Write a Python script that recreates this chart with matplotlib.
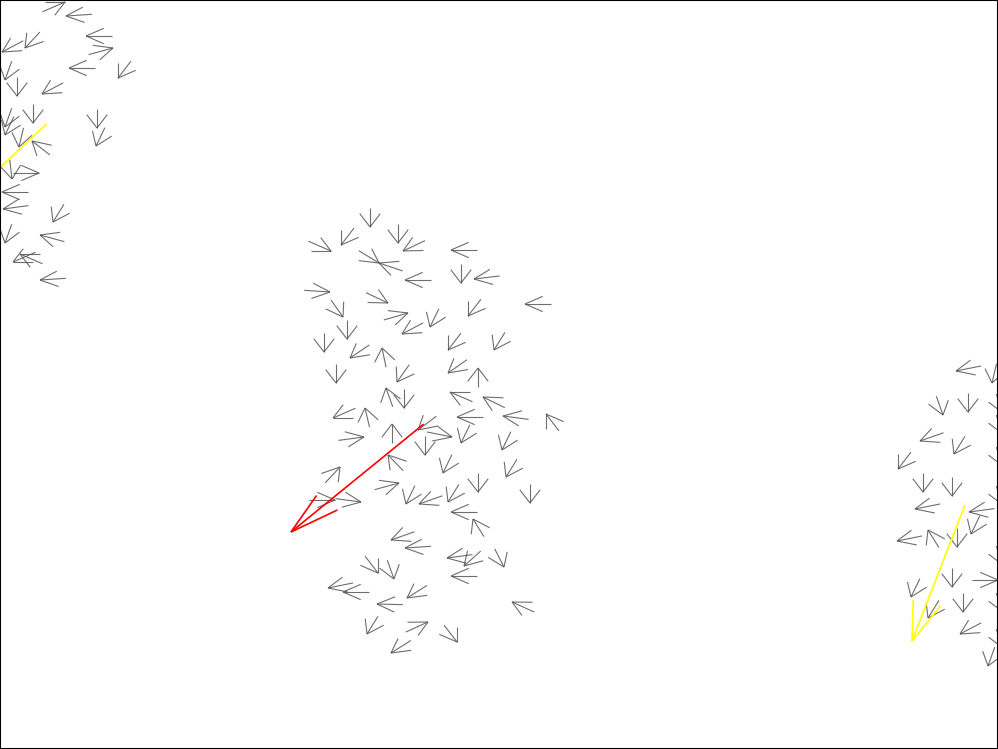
import numpy as np
import matplotlib
matplotlib.use('Agg')
import matplotlib.pyplot as plt
from matplotlib.collections import LineCollection

W, H = 998, 749
# world is a 100 x 100 box squeezed into the 998 x 749 frame
SX, SY = W / 100.0, -H / 100.0

# boid tips (frame units, y down) and headings (world degrees, ccw from +x)
boid_x = [370, 331, 341, 398, 403, 451, 379, 379, 405, 461, 474, 330, 388, 343,
          525, 468, 408, 347, 402, 430, 324, 350, 382, 397, 336, 448, 494, 448,
          478, 386, 404, 333, 365, 450, 483, 457, 503, 546, 392, 418, 452, 461,
          364, 425, 388, 340, 443, 478, 506, 530, 399, 361, 335, 406, 419, 448,
          451, 473, 391, 405, 447, 464, 504, 378, 394, 451, 328, 343, 407, 377,
          512, 367, 428, 457, 391, 502,
          65, 66, 2, 25, 86, 113, 69, 118, 5, 17, 42, 5, 5, 33, 97, 19, 32, 96,
          12, 39, 2, 3, 5, 53, 40, 13, 20, 40,
          956, 992, 943, 968, 920, 954, 898, 923, 952, 915, 969, 971, 897, 928,
          957, 952, 963, 911, 928, 960, 988, 998,
          1003, 1003, 1003, 1003, 1003, 1003, 1003]
boid_y = [227, 251, 245, 243, 251, 250, 263, 263, 280, 283, 279, 292, 303, 317,
          304, 316, 313, 339, 334, 327, 352, 358, 348, 382, 383, 350, 350, 373,
          368, 388, 408, 418, 408, 392, 397, 417, 416, 414, 424, 430, 437, 443,
          437, 455, 455, 467, 473, 492, 477, 503, 483, 502, 500, 504, 504, 502,
          512, 519, 540, 548, 558, 566, 567, 573, 579, 576, 588, 592, 598, 604,
          602, 634, 622, 642, 653, 450,
          2, 16, 52, 48, 36, 48, 68, 78, 80, 96, 94, 127, 135, 123, 128, 147,
          141, 146, 179, 173, 192, 209, 243, 222, 235, 262, 254, 280,
          371, 383, 415, 412, 441, 454, 469, 492, 496, 509, 512, 534, 541, 530,
          547, 587, 612, 597, 618, 634, 666, 580,
          413, 434, 466, 505, 565, 612, 648]
boid_heading = [270, -30, 240, 270, 212, 180, -39, 156, 180, 270, 189, -5, -32, -62,
                180, 240, 21, 270, 215, 250, 270, 222, 99, 242, 270, 240, 245, 223,
                90, 105, 270, 210, 100, 150, 147, 180, 170, 120, 90, 225, -15, 250,
                10, 270, 126, 55, 250, 270, 245, 270, 20, -10, 0, 250, 205, 245,
                180, 115, 205, 185, 190, 230, 291, -60, 285, 180, 195, 180, 220, 178,
                149, 245, 31, 300, 220, 250,
                30, 185, 215, 235, 180, 20, 180, 240, 255, 270, 215, 255, 250, 270,
                270, 260, 134, 250, 275, 0, 180, 190, 255, 245, 160, 210, 150, 185,
                195, 260, 285, 270, 205, 245, 240, 270, 270, 195, 190, 250, 195, 115,
                270, 270, 270, 250, 245, 215, 255, 0,
                285, 285, 285, 285, 285, 285, 285]

# the three long highlighted vectors
big_x = [291, 912, -72]
big_y = [532, 641, 235]
big_heading = [227.3, 253.7, 231.3]
big_length = [19.6, 18.9, 19.0]
big_color = ['red', 'yellow', 'yellow']


def arrow_segments(x, y, heading, length, head, spread):
    # shaft plus two barbs, all starting at the tip
    segs = []
    for xi, yi, h, L in zip(x, y, heading, length):
        for ang, ln in ((0, L), (spread, head), (-spread, head)):
            a = np.radians(h + 180 + ang)
            segs.append([(xi, yi), (xi + ln * np.cos(a) * SX, yi + ln * np.sin(a) * SY)])
    return segs


fig = plt.figure(figsize=(W / 100, H / 100), dpi=100)
ax = fig.add_axes([0, 0, 1, 1])

gray = arrow_segments(boid_x, boid_y, boid_heading, [2.6] * len(boid_x), 2.05, 30)
ax.add_collection(LineCollection(gray, colors='#555555', linewidths=0.8, alpha=0.85))

for i in range(len(big_x)):
    segs = arrow_segments([big_x[i]], [big_y[i]], [big_heading[i]], [big_length[i]], 5.5, 15)
    ax.add_collection(LineCollection(segs, colors=big_color[i], linewidths=1.2))

ax.set_xlim(0, W)
ax.set_ylim(H, 0)
ax.set_xticks([])
ax.set_yticks([])
for s in ax.spines.values():
    s.set_color('black')
    s.set_linewidth(1.5)

fig.savefig('out.png', dpi=100)
